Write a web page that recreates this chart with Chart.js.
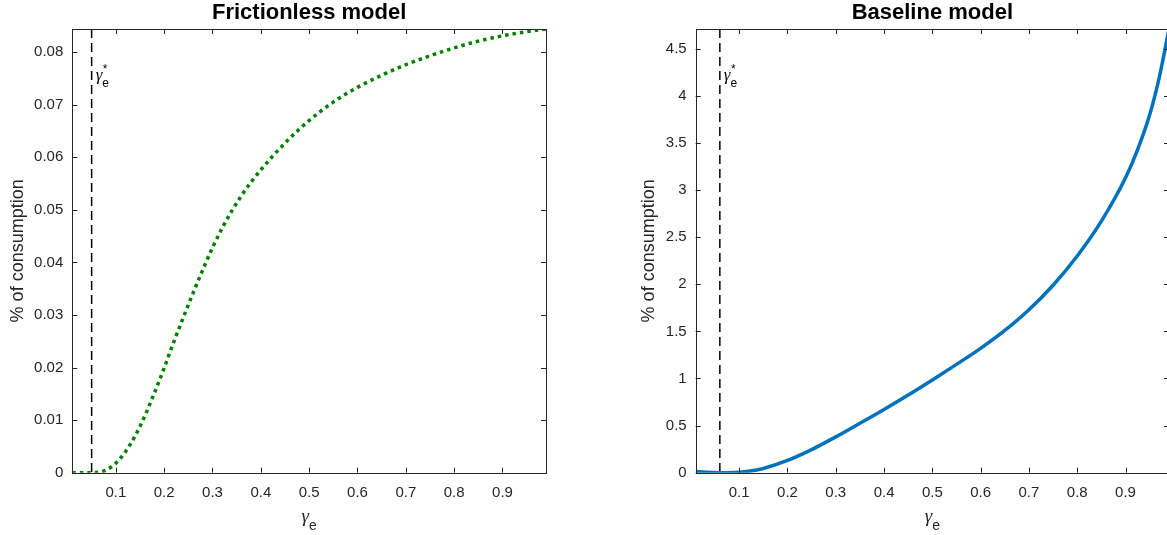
<!DOCTYPE html>
<html>
<head>
<meta charset="utf-8">
<script src="https://cdn.jsdelivr.net/npm/chart.js@4/dist/chart.umd.min.js"></script>
<style>
  html, body { margin: 0; padding: 0; background: #fff; overflow: hidden; width: 1167px; height: 535px; }
  canvas { position: absolute; top: 0; }
  #fricChart { left: 0; }
  #baseChart { left: 583px; }
</style>
</head>
<body>
<canvas id="fricChart" width="583" height="535"></canvas>
<canvas id="baseChart" width="600" height="535"></canvas>
<script>
/* welfare cost charts: frictionless vs baseline */

// gamma_e grid + readings
const FRIC_X = [0.01, 0.03, 0.05, 0.07, 0.08, 0.1, 0.12, 0.14, 0.16, 0.18, 0.2, 0.22, 0.24, 0.26, 0.28, 0.3,
  0.32, 0.34, 0.36, 0.38, 0.4, 0.45, 0.5, 0.55, 0.6, 0.65, 0.7, 0.75, 0.8, 0.85, 0.9, 0.95, 0.99];
const FRIC_Y = [0.0000, 0.0000, 0.0000, 0.0002, 0.0005, 0.0018, 0.0040, 0.0070, 0.0108, 0.0152, 0.0199, 0.0249,
  0.0296, 0.0342, 0.0386, 0.0428, 0.0465, 0.0498, 0.0527, 0.0553, 0.0576, 0.0627, 0.0670, 0.0705, 0.0733,
  0.0756, 0.0776, 0.0793, 0.0808, 0.0821, 0.0831, 0.0839, 0.0844];

const BASE_X = [0.01, 0.03, 0.06, 0.1, 0.12, 0.15, 0.2, 0.25, 0.3, 0.35, 0.4, 0.45, 0.5, 0.55, 0.6, 0.65, 0.7,
  0.75, 0.8, 0.85, 0.9, 0.925, 0.95, 0.97, 0.99];
const BASE_Y = [0.012, 0.006, 0.0, 0.005, 0.015, 0.045, 0.13, 0.245, 0.38, 0.525, 0.672, 0.825, 0.985, 1.15,
  1.32, 1.51, 1.73, 1.99, 2.3, 2.67, 3.13, 3.43, 3.8, 4.2, 4.71];

const X_TICKS = [0.1, 0.2, 0.3, 0.4, 0.5, 0.6, 0.7, 0.8, 0.9];
const FRIC_Y_TICKS = [0, 0.01, 0.02, 0.03, 0.04, 0.05, 0.06, 0.07, 0.08];
const BASE_Y_TICKS = [0, 0.5, 1, 1.5, 2, 2.5, 3, 3.5, 4, 4.5];

const X_RANGE = [0.01, 0.99];
const FRIC_Y_MAX = 0.0844;
const BASE_Y_MAX = 4.71;

const GAMMA_STAR = [0.05, 0.06];      // dashed line, left / right
const STAR_LABEL_Y = [0.0747, 4.17];  // where the gamma* label sits

const TITLES = ['Frictionless model', 'Baseline model'];
const Y_LABEL = '% of consumption';

const AX_COLOR = '#262626';
const FONT = '"Liberation Sans", Arial, Helvetica, sans-serif';
const GREEK = 'italic {s}px "Liberation Serif", "Times New Roman", serif';

// gamma with subscript e (and optional star)
function drawGamma(ctx, x, y, size, star, align) {
  const gFont = GREEK.replace('{s}', size);
  ctx.font = gFont;
  const wg = ctx.measureText('\u03B3').width;
  const sub = Math.round(size * 0.72);
  ctx.font = sub + 'px ' + FONT;
  const we = ctx.measureText('e').width;
  let x0 = align === 'center' ? x - (wg + we) / 2 : x;
  ctx.textAlign = 'left';
  ctx.textBaseline = 'alphabetic';
  ctx.font = gFont;
  ctx.fillText('\u03B3', x0, y);
  ctx.font = sub + 'px ' + FONT;
  ctx.fillText('e', x0 + wg, y + size * 0.42);
  if (star) {
    ctx.font = Math.round(size * 0.7) + 'px ' + FONT;
    ctx.fillText('*', x0 + wg + 0.5, y - size * 0.4);
  }
}

// matlab-ish box: inward ticks on all four sides, title, gamma labels
const matlabAxes = {
  id: 'matlabAxes',
  afterDatasetsDraw(chart) {
    const { ctx, chartArea: a, scales: { x, y } } = chart;
    ctx.save();
    ctx.strokeStyle = AX_COLOR;
    ctx.lineWidth = 1;
    ctx.beginPath();
    x.ticks.forEach(t => {
      const px = Math.round(x.getPixelForValue(t.value)) + 0.5;
      ctx.moveTo(px, a.bottom); ctx.lineTo(px, a.bottom - 5);
      ctx.moveTo(px, a.top); ctx.lineTo(px, a.top + 5);
    });
    y.ticks.forEach(t => {
      const py = Math.round(y.getPixelForValue(t.value)) + 0.5;
      ctx.moveTo(a.left, py); ctx.lineTo(a.left + 5, py);
      ctx.moveTo(a.right, py); ctx.lineTo(a.right - 5, py);
    });
    ctx.stroke();
    ctx.strokeRect(Math.round(a.left) + 0.5, Math.round(a.top) + 0.5,
      Math.round(a.width), Math.round(a.height));
    ctx.restore();
  },
  afterDraw(chart, args, opts) {
    const { ctx, chartArea: a, scales: { x, y } } = chart;
    ctx.save();
    // title
    ctx.fillStyle = '#000';
    ctx.font = 'bold 22px ' + FONT;
    ctx.textAlign = 'center';
    ctx.textBaseline = 'alphabetic';
    ctx.fillText(opts.title, (a.left + a.right) / 2, a.top - 10);
    // x axis label
    ctx.fillStyle = AX_COLOR;
    drawGamma(ctx, (a.left + a.right) / 2, a.bottom + 49, 19, false, 'center');
    // gamma* next to the dashed line
    ctx.fillStyle = '#000';
    drawGamma(ctx, x.getPixelForValue(opts.star) + 4, y.getPixelForValue(opts.starY), 17, true, 'left');
    ctx.restore();
  }
};

function buildPanel(id, cfg) {
  const canvas = document.getElementById(id);
  return new Chart(canvas, {
    type: 'line',
    data: {
      datasets: [
        {
          data: cfg.xs.map((v, i) => ({ x: v, y: cfg.ys[i] })),
          borderColor: cfg.color,
          borderWidth: cfg.width,
          borderDash: cfg.dash,
          borderCapStyle: 'butt',
          cubicInterpolationMode: 'monotone',
          pointRadius: 0,
          fill: false,
        },
        {
          data: [{ x: cfg.star, y: cfg.yMax }, { x: cfg.star, y: 0 }],
          borderColor: '#000',
          borderWidth: 1.5,
          borderDash: [9, 5],
          pointRadius: 0,
          fill: false,
        }
      ]
    },
    options: {
      responsive: false,
      animation: false,
      events: [],
      layout: { padding: { left: 0, right: cfg.padRight, top: 29, bottom: 0 } },
      plugins: {
        legend: { display: false },
        tooltip: { enabled: false },
        matlabAxes: { title: cfg.title, star: cfg.star, starY: cfg.starY }
      },
      scales: {
        x: {
          type: 'linear', min: X_RANGE[0], max: X_RANGE[1],
          grid: { display: false, drawTicks: false },
          border: { display: false },
          afterBuildTicks: s => { s.ticks = X_TICKS.map(v => ({ value: v })); },
          afterFit: s => { s.height = 62.3; },
          ticks: { autoSkip: false, maxRotation: 0, padding: 11, color: AX_COLOR,
            font: { family: FONT, size: 15 }, callback: v => String(v) }
        },
        y: {
          type: 'linear', min: 0, max: cfg.yMax,
          grid: { display: false, drawTicks: false },
          border: { display: false },
          afterBuildTicks: s => { s.ticks = cfg.yTicks.map(v => ({ value: v })); },
          afterFit: s => { s.width = cfg.yWidth; },
          ticks: { autoSkip: false, padding: 9, color: AX_COLOR,
            font: { family: FONT, size: 15 }, callback: v => String(v) },
          title: { display: true, text: Y_LABEL, color: AX_COLOR,
            font: { family: FONT, size: 18 }, padding: { top: cfg.titlePad, bottom: 0 } }
        }
      }
    },
    plugins: [matlabAxes]
  });
}

buildPanel('fricChart', {
  xs: FRIC_X, ys: FRIC_Y, yMax: FRIC_Y_MAX, yTicks: FRIC_Y_TICKS,
  color: '#008000', width: 3.5, dash: [3.5, 4],
  star: GAMMA_STAR[0], starY: STAR_LABEL_Y[0], title: TITLES[0],
  yWidth: 72.3, padRight: 37, titlePad: 7
});

buildPanel('baseChart', {
  xs: BASE_X, ys: BASE_Y, yMax: BASE_Y_MAX, yTicks: BASE_Y_TICKS,
  color: '#0072BD', width: 3.5, dash: [],
  star: GAMMA_STAR[1], starY: STAR_LABEL_Y[1], title: TITLES[1],
  yWidth: 112.7, padRight: 14, titlePad: 55
});
</script>
</body>
</html>
